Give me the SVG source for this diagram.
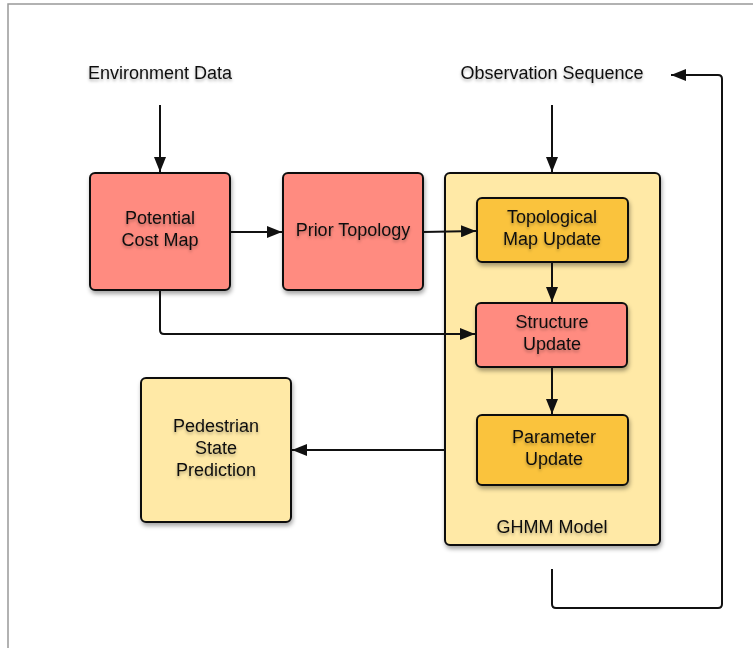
<svg xmlns="http://www.w3.org/2000/svg" width="753" height="648" viewBox="0 0 753 648">
<style>
.box{stroke:#111;stroke-width:2;filter:url(#sh)}
.red{fill:#FF8B80}
.lt{fill:#FFE9A6}
.or{fill:#FAC33E}
.t{font-family:"Liberation Sans",Arial,sans-serif;font-size:18px;fill:#111;text-anchor:middle;filter:url(#tsh)}
.c{fill:none;stroke:#111;stroke-width:2;stroke-linejoin:round}
</style>
<defs>
<filter id="sh" x="-10%" y="-10%" width="130%" height="130%">
<feDropShadow dx="1" dy="3" stdDeviation="2" flood-color="#000" flood-opacity="0.35"/>
</filter>
<filter id="tsh" x="-10%" y="-30%" width="130%" height="170%">
<feDropShadow dx="0" dy="2" stdDeviation="1.5" flood-color="#000" flood-opacity="0.3"/>
</filter>
<marker id="ah" markerWidth="16" markerHeight="12" refX="15" refY="6" orient="auto" markerUnits="userSpaceOnUse">
<path d="M0,0 L15,6 L0,12 Z" fill="#111"/>
</marker>
</defs>
<rect width="753" height="648" fill="#fff"/>
<path d="M8,648 V4 H753" fill="none" stroke="#999" stroke-width="1.5"/>

<g id="envData"><text class="t" x="160" y="79">Environment Data</text></g>
<g id="obsSeq"><text class="t" x="552" y="79">Observation Sequence</text></g>

<g id="costMap">
<rect class="box red" x="90" y="173" width="140" height="117" rx="5"/>
<text class="t" x="160" y="224">Potential</text>
<text class="t" x="160" y="246">Cost Map</text>
</g>
<g id="priorTopology">
<rect class="box red" x="283" y="173" width="140" height="117" rx="5"/>
<text class="t" x="353" y="236">Prior Topology</text>
</g>
<g id="ghmm">
<rect class="box lt" x="445" y="173" width="215" height="372" rx="5"/>
<text class="t" x="552" y="533">GHMM Model</text>
</g>
<g id="topoMapUpdate">
<rect class="box or" x="477" y="198" width="151" height="64" rx="5"/>
<text class="t" x="552" y="223">Topological</text>
<text class="t" x="552" y="245">Map Update</text>
</g>
<g id="structureUpdate">
<rect class="box red" x="476" y="303" width="151" height="64" rx="5"/>
<text class="t" x="552" y="328">Structure</text>
<text class="t" x="552" y="350">Update</text>
</g>
<g id="parameterUpdate">
<rect class="box or" x="477" y="415" width="151" height="70" rx="5"/>
<text class="t" x="554" y="443">Parameter</text>
<text class="t" x="554" y="465">Update</text>
</g>
<g id="pedestrian">
<rect class="box lt" x="141" y="378" width="150" height="144" rx="5"/>
<text class="t" x="216" y="432">Pedestrian</text>
<text class="t" x="216" y="454">State</text>
<text class="t" x="216" y="476">Prediction</text>
</g>

<g id="connectors">
<path class="c" d="M160,105 V172" marker-end="url(#ah)"/>
<path class="c" d="M552,105 V172" marker-end="url(#ah)"/>
<path class="c" d="M230,232 H282" marker-end="url(#ah)"/>
<path class="c" d="M423,232 L476,231" marker-end="url(#ah)"/>
<path class="c" d="M160,290 V330 Q160,334 164,334 H475" marker-end="url(#ah)"/>
<path class="c" d="M552,262 V302" marker-end="url(#ah)"/>
<path class="c" d="M552,367 V414" marker-end="url(#ah)"/>
<path class="c" d="M445,450 L292,450" marker-end="url(#ah)"/>
<path class="c" d="M552,569 V604 Q552,608 556,608 H718 Q722,608 722,604 V79 Q722,75 718,75 H671" marker-end="url(#ah)"/>
</g>
</svg>
